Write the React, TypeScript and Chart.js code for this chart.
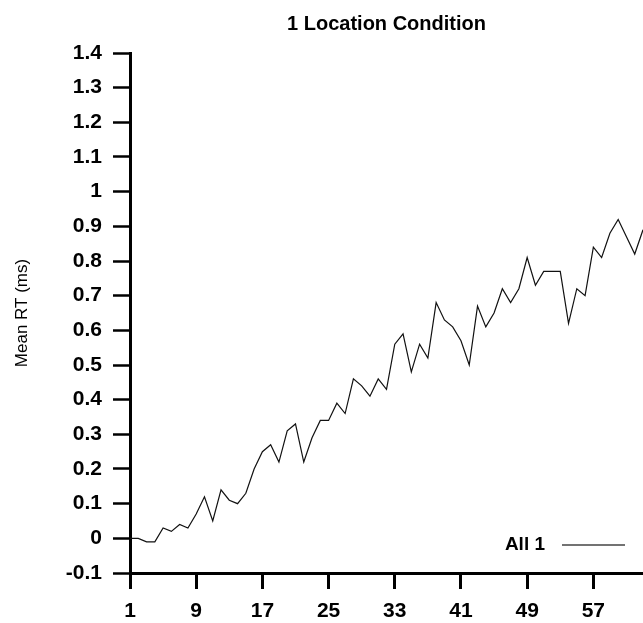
import { useEffect, useRef } from 'react';
import { Chart, registerables } from 'chart.js';

Chart.register(...registerables);

const chartTitle = '1 Location Condition';
const yAxisTitle = 'Mean RT (ms)';
const seriesLabel = 'All 1';

const trials = [
  1, 2, 3, 4, 5, 6, 7, 8, 9, 10,
  11, 12, 13, 14, 15, 16, 17, 18, 19, 20,
  21, 22, 23, 24, 25, 26, 27, 28, 29, 30,
  31, 32, 33, 34, 35, 36, 37, 38, 39, 40,
  41, 42, 43, 44, 45, 46, 47, 48, 49, 50,
  51, 52, 53, 54, 55, 56, 57, 58, 59, 60,
  61, 62, 63,
];

const meanRT = [
  0.0, 0.0, -0.01, -0.01, 0.03, 0.02, 0.04, 0.03, 0.07, 0.12,
  0.05, 0.14, 0.11, 0.10, 0.13, 0.20, 0.25, 0.27, 0.22, 0.31,
  0.33, 0.22, 0.29, 0.34, 0.34, 0.39, 0.36, 0.46, 0.44, 0.41,
  0.46, 0.43, 0.56, 0.59, 0.48, 0.56, 0.52, 0.68, 0.63, 0.61,
  0.57, 0.50, 0.67, 0.61, 0.65, 0.72, 0.68, 0.72, 0.81, 0.73,
  0.77, 0.77, 0.77, 0.62, 0.72, 0.70, 0.84, 0.81, 0.88, 0.92,
  0.87, 0.82, 0.89,
];

const xTicks = [1, 9, 17, 25, 33, 41, 49, 57];
const yTicks = [-0.1, 0, 0.1, 0.2, 0.3, 0.4, 0.5, 0.6, 0.7, 0.8, 0.9, 1, 1.1, 1.2, 1.3, 1.4];

const FONT = '"Liberation Sans", Arial, Helvetica, sans-serif';

const cornerLegend = {
  id: 'cornerLegend',
  afterDraw(chart: any) {
    const { ctx, chartArea } = chart;
    const y = chartArea.bottom - 28;
    ctx.save();
    ctx.font = `bold 19px ${FONT}`;
    ctx.fillStyle = '#000';
    ctx.textAlign = 'right';
    ctx.textBaseline = 'middle';
    ctx.fillText(chart.data.datasets[0].label, chartArea.right - 98, y);
    ctx.strokeStyle = '#444';
    ctx.lineWidth = 1.3;
    ctx.beginPath();
    ctx.moveTo(chartArea.right - 81, y);
    ctx.lineTo(chartArea.right - 18, y);
    ctx.stroke();
    ctx.restore();
  },
};

export default function App() {
  const ref = useRef<HTMLCanvasElement>(null);

  useEffect(() => {
    if (!ref.current) return;
    const chart = new Chart(ref.current, {
      type: 'line',
      data: {
        datasets: [
          {
            label: seriesLabel,
            data: trials.map((t, i) => ({ x: t, y: meanRT[i] })),
            borderColor: '#111',
            borderWidth: 1.2,
            pointRadius: 0,
            tension: 0,
            fill: false,
          },
        ],
      },
      options: {
        animation: false,
        responsive: false,
        layout: { padding: 0 },
        plugins: {
          legend: { display: false },
          tooltip: { enabled: false },
          title: {
            display: true,
            text: chartTitle,
            fullSize: false,
            color: '#000',
            font: { family: FONT, size: 20, weight: 'bold' },
            padding: { top: 12, bottom: 17 },
          },
        },
        scales: {
          x: {
            type: 'linear',
            min: 1,
            max: 63,
            afterBuildTicks: (scale: any) => {
              scale.ticks = xTicks.map((v) => ({ value: v }));
            },
            afterFit: (scale: any) => {
              scale.height = 50;
            },
            grid: {
              drawOnChartArea: false,
              drawTicks: true,
              tickLength: 16,
              tickWidth: 3,
              tickColor: '#000',
            },
            border: { display: true, width: 3, color: '#000' },
            ticks: {
              color: '#000',
              padding: 10,
              autoSkip: false,
              maxRotation: 0,
              font: { family: FONT, size: 21, weight: 'bold' },
              callback: (v: any) => String(v),
            },
          },
          y: {
            type: 'linear',
            min: -0.1,
            max: 1.4,
            afterBuildTicks: (scale: any) => {
              scale.ticks = yTicks.map((v) => ({ value: v }));
            },
            afterFit: (scale: any) => {
              scale.width = 130;
            },
            grid: {
              drawOnChartArea: false,
              drawTicks: true,
              tickLength: 17,
              tickWidth: 2.5,
              tickColor: '#000',
            },
            border: { display: true, width: 3, color: '#000' },
            ticks: {
              color: '#000',
              padding: 11,
              autoSkip: false,
              font: { family: FONT, size: 21, weight: 'bold' },
              callback: (v: any) => String(Number(Number(v).toFixed(1))),
            },
            title: {
              display: true,
              text: yAxisTitle,
              color: '#000',
              font: { family: FONT, size: 17, weight: 'normal' },
              padding: { top: 12, bottom: 0 },
            },
          },
        },
      },
      plugins: [cornerLegend],
    });
    return () => chart.destroy();
  }, []);

  return (
    <canvas
      ref={ref}
      width={643}
      height={623}
      style={{ position: 'fixed', left: 0, top: 0, display: 'block', background: '#fff' }}
    />
  );
}
